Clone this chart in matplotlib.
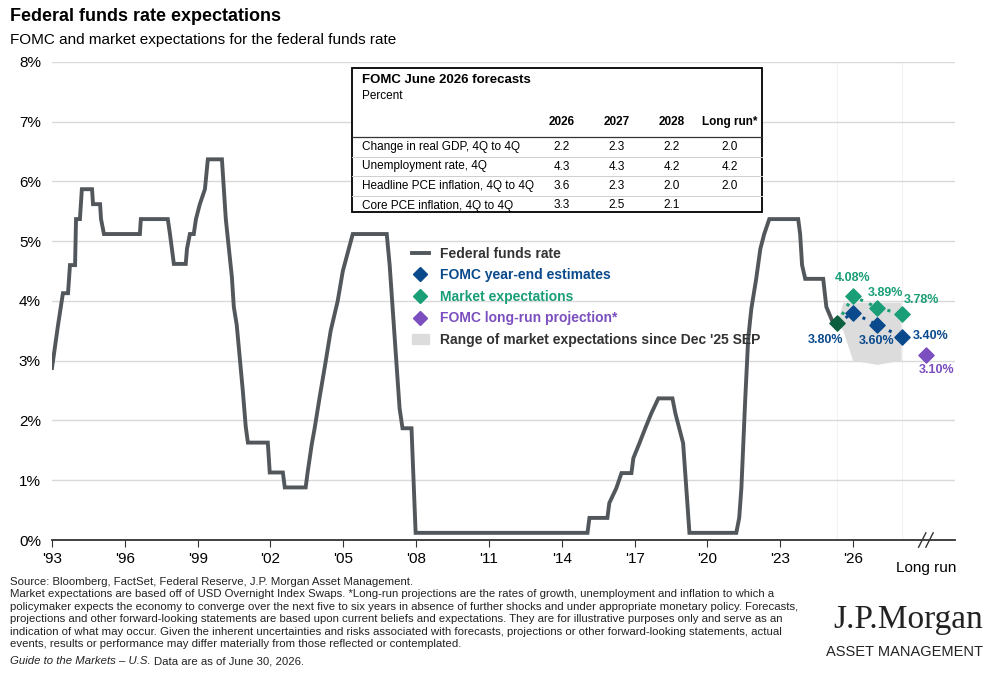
import matplotlib.pyplot as plt
import matplotlib.patches as mpatches
from matplotlib.lines import Line2D

# federal funds rate path (year, percent)
ffr_year = [1993.0, 1993.25, 1993.45, 1993.66, 1993.74, 1993.95, 1993.99, 1994.15, 1994.23, 1994.65,
            1994.69, 1994.98, 1995.02, 1995.14, 1996.62, 1996.66, 1997.77, 1997.86, 1997.94, 1998.02,
            1998.51, 1998.56, 1998.68, 1998.84, 1998.93, 1999.09, 1999.30, 1999.42, 2000.0, 2000.16,
            2000.41, 2000.49, 2000.61, 2000.86, 2000.98, 2001.07, 2001.89, 2001.97, 2002.51, 2002.59,
            2003.45, 2003.53, 2003.70, 2003.82, 2004.03, 2004.28, 2004.48, 2004.77, 2004.98, 2005.39,
            2006.79, 2006.91, 2007.2, 2007.32, 2007.44, 2007.81, 2007.98, 2015.06, 2015.14, 2015.88,
            2015.96, 2016.25, 2016.46, 2016.87, 2016.95, 2017.2, 2017.44, 2017.69, 2017.98, 2018.56,
            2018.68, 2018.84, 2019.0, 2019.26, 2021.19, 2021.31, 2021.40, 2021.56, 2021.68, 2021.81,
            2022.01, 2022.18, 2022.34, 2022.55, 2023.74, 2023.82, 2023.9, 2024.03, 2024.77, 2024.9,
            2025.18, 2025.35]
ffr_rate = [2.88, 3.6, 4.13, 4.13, 4.6, 4.6, 5.37, 5.37, 5.87, 5.87,
            5.62, 5.62, 5.37, 5.12, 5.12, 5.37, 5.37, 5.12, 4.87, 4.62,
            4.62, 4.87, 5.12, 5.12, 5.37, 5.62, 5.87, 6.37, 6.37, 5.37,
            4.4, 3.9, 3.6, 2.5, 1.9, 1.63, 1.63, 1.13, 1.13, 0.88,
            0.88, 1.13, 1.6, 1.87, 2.4, 3.0, 3.5, 4.0, 4.5, 5.12,
            5.12, 4.6, 2.9, 2.2, 1.87, 1.87, 0.12, 0.12, 0.37, 0.37,
            0.62, 0.87, 1.12, 1.12, 1.37, 1.62, 1.87, 2.12, 2.37, 2.37,
            2.12, 1.87, 1.62, 0.12, 0.12, 0.37, 0.87, 2.37, 3.37, 3.87,
            4.37, 4.87, 5.12, 5.37, 5.37, 5.12, 4.6, 4.37, 4.37, 3.9,
            3.63, 3.63]

start_year, start_rate = 2025.35, 3.63
proj_years = [2026, 2027, 2028]
fomc_est = [3.80, 3.60, 3.40]
market_exp = [4.08, 3.89, 3.78]
longrun_year, longrun_val = 2029, 3.10
range_x = [2025.35, 2025.6, 2028.0, 2028.0, 2027.0, 2026.0, 2025.6]
range_y = [3.63, 3.97, 3.97, 3.0, 2.93, 3.0, 3.5]

tick_years = list(range(1993, 2027, 3))
tick_labels = ["'%02d" % (y % 100) for y in tick_years]

table_cols = ['2026', '2027', '2028', 'Long run*']
table_rows = ['Change in real GDP, 4Q to 4Q', 'Unemployment rate, 4Q',
              'Headline PCE inflation, 4Q to 4Q', 'Core PCE inflation, 4Q to 4Q']
table_vals = [['2.2', '2.3', '2.2', '2.0'], ['4.3', '4.3', '4.2', '4.2'],
              ['3.6', '2.3', '2.0', '2.0'], ['3.3', '2.5', '2.1', '']]

plt.rcParams['font.family'] = ['Liberation Sans', 'DejaVu Sans']
GREY = '#52575c'
BLUE = '#0a4a8c'
GREEN = '#1a9e77'
DKGREEN = '#0b5e3e'
PURPLE = '#7b4fbf'

fig = plt.figure(figsize=(10, 6.73), dpi=100)
ax = fig.add_axes([0.052, 0.1976, 0.903, 0.7104])

ax.fill(range_x, range_y, color='#dcdcdc', lw=0, zorder=1)
ax.axvline(start_year, color='#f2f2f2', lw=0.8, zorder=0)
ax.axvline(2028, color='#f2f2f2', lw=0.8, zorder=0)
ax.plot(ffr_year, ffr_rate, color=GREY, lw=2.8, zorder=3, solid_joinstyle='miter')

ax.plot([start_year] + proj_years, [start_rate] + market_exp, ls=(0, (1, 2.2)), lw=2.2, color=GREEN, zorder=4)
ax.plot([start_year] + proj_years, [start_rate] + fomc_est, ls=(0, (1, 2.2)), lw=2.2, color=BLUE, zorder=4)
ax.scatter(proj_years, market_exp, marker='D', s=60, color=GREEN, zorder=5)
ax.scatter(proj_years, fomc_est, marker='D', s=60, color=BLUE, zorder=5)
ax.scatter([start_year], [start_rate], marker='D', s=60, color=DKGREEN, zorder=6)
ax.scatter([longrun_year], [longrun_val], marker='D', s=60, color=PURPLE, zorder=5)

lab = dict(fontsize=9, fontweight='bold', ha='center', va='center')
ax.text(2026.0, market_exp[0] + 0.30, '%.2f%%' % market_exp[0], color=GREEN, **lab)
ax.text(2027.32, market_exp[1] + 0.24, '%.2f%%' % market_exp[1], color=GREEN, **lab)
ax.text(2028.8, market_exp[2] + 0.24, '%.2f%%' % market_exp[2], color=GREEN, **lab)
ax.text(2024.85, 3.35, '%.2f%%' % fomc_est[0], color=BLUE, **lab)
ax.text(2026.95, 3.33, '%.2f%%' % fomc_est[1], color=BLUE, **lab)
ax.text(2029.2, fomc_est[2] + 0.01, '%.2f%%' % fomc_est[2], color=BLUE, **lab)
ax.text(2029.46, longrun_val - 0.25, '%.2f%%' % longrun_val, color=PURPLE, **lab)

ax.set_xlim(1993, 2030.2)
ax.set_ylim(0, 8)
ax.set_yticks(range(0, 9))
ax.set_yticklabels(['%d%%' % v for v in range(0, 9)])
ax.set_xticks(tick_years + [longrun_year])
ax.set_xticklabels(tick_labels + ['Long run'])
ax.tick_params(axis='y', length=0, labelsize=11, pad=8)
ax.tick_params(axis='x', length=5, labelsize=11, color='#333333')
ax.get_xticklabels()[-1].set_y(-0.02)
ax.grid(axis='y', color='#d9d9d9', lw=1)
ax.set_axisbelow(True)
for s in ['top', 'right', 'left']:
    ax.spines[s].set_visible(False)
ax.spines['bottom'].set_color('#333333')
ax.spines['bottom'].set_linewidth(1.3)
ax.xaxis.get_major_ticks()[-1].tick1line.set_visible(False)
for dx in (-0.15, 0.15):
    ax.plot([2028.85 + dx, 2029.15 + dx], [-0.12, 0.12], color='#333333', lw=1, clip_on=False, zorder=7)

handles = [Line2D([], [], color=GREY, lw=2.8),
           Line2D([], [], color=BLUE, marker='D', ls='', ms=7),
           Line2D([], [], color=GREEN, marker='D', ls='', ms=7),
           Line2D([], [], color=PURPLE, marker='D', ls='', ms=7),
           mpatches.Patch(color='#dcdcdc')]
names = ['Federal funds rate', 'FOMC year-end estimates', 'Market expectations',
         'FOMC long-run projection*', "Range of market expectations since Dec '25 SEP"]
leg = ax.legend(handles, names, loc='upper left', bbox_to_anchor=(0.385, 0.64), frameon=False,
                fontsize=10, handlelength=1.2, labelspacing=0.55, handletextpad=0.8)
for t, c in zip(leg.get_texts(), ['#333333', BLUE, GREEN, PURPLE, '#333333']):
    t.set_color(c)
    t.set_fontweight('bold')

# forecast table
fig.patches.append(mpatches.Rectangle((0.352, 1 - 212 / 673), 0.41, 144 / 673, transform=fig.transFigure,
                                      fill=True, fc='white', ec='black', lw=1.3, zorder=10))
fig.text(0.362, 1 - 80 / 673, 'FOMC June 2026 forecasts', fontsize=9.5, fontweight='bold', va='center', zorder=11)
fig.text(0.362, 1 - 96 / 673, 'Percent', fontsize=8.5, va='center', zorder=11)
col_x = [0.562, 0.617, 0.672, 0.73]
for cx, c in zip(col_x, table_cols):
    fig.text(cx, 1 - 122 / 673, c, fontsize=8.5, fontweight='bold', ha='center', va='center', zorder=11)
for i, (r, vals) in enumerate(zip(table_rows, table_vals)):
    yy = 1 - (147 + i * 19.5) / 673
    fig.text(0.362, yy, r, fontsize=8.5, va='center', zorder=11)
    for cx, v in zip(col_x, vals):
        fig.text(cx, yy, v, fontsize=8.5, ha='center', va='center', zorder=11)
    if i < 3:
        fig.add_artist(Line2D([0.352, 0.762], [yy - 9.75 / 673] * 2, color='#cfcfcf', lw=0.7, zorder=11))
fig.add_artist(Line2D([0.352, 0.762], [1 - 137 / 673] * 2, color='#333333', lw=0.9, zorder=11))

fig.text(0.01, 0.975, 'Federal funds rate expectations', fontsize=13, fontweight='bold', va='center')
fig.text(0.01, 0.94, 'FOMC and market expectations for the federal funds rate', fontsize=11, va='center')

foot = ("Source: Bloomberg, FactSet, Federal Reserve, J.P. Morgan Asset Management.\n"
        "Market expectations are based off of USD Overnight Index Swaps. *Long-run projections are the rates of growth, unemployment and inflation to which a\n"
        "policymaker expects the economy to converge over the next five to six years in absence of further shocks and under appropriate monetary policy. Forecasts,\n"
        "projections and other forward-looking statements are based upon current beliefs and expectations. They are for illustrative purposes only and serve as an\n"
        "indication of what may occur. Given the inherent uncertainties and risks associated with forecasts, projections or other forward-looking statements, actual\n"
        "events, results or performance may differ materially from those reflected or contemplated.")
fig.text(0.01, 1 - 577 / 673, foot, fontsize=8.2, va='top', linespacing=1.3, color='#222222')
fig.text(0.01, 1 - 661 / 673, 'Guide to the Markets \u2013 U.S.', fontsize=8.2, style='italic',
         va='center', color='#222222')
fig.text(0.154, 1 - 661 / 673, 'Data are as of June 30, 2026.', fontsize=8.2, va='center', color='#222222')
fig.text(0.983, 1 - 620 / 673, 'J.P.Morgan', fontsize=24, family=['Liberation Serif', 'DejaVu Serif'],
         ha='right', va='center', color='#222222')
fig.text(0.983, 1 - 652 / 673, 'ASSET MANAGEMENT', fontsize=10.5, ha='right', va='center', color='#222222')

fig.savefig('out.png', dpi=100)
